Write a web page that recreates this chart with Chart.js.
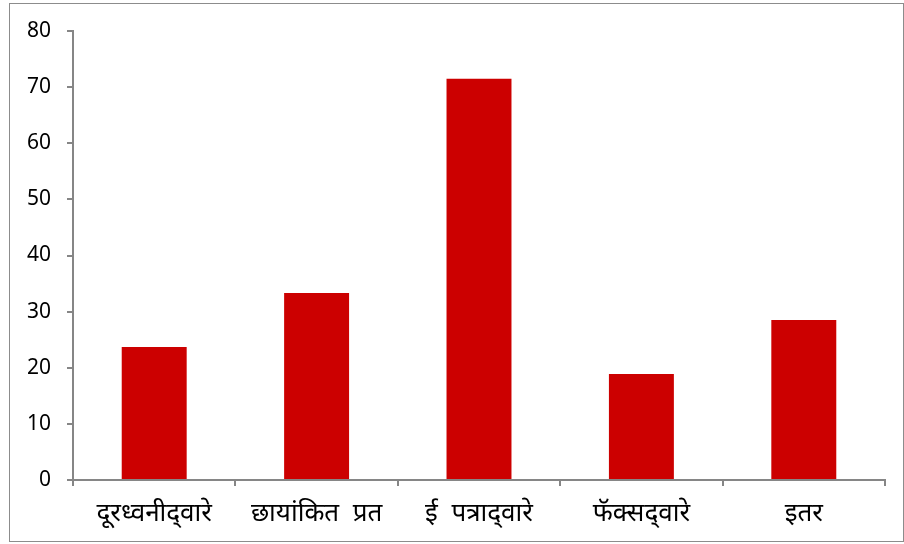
<!DOCTYPE html>
<html>
<head>
<meta charset="utf-8">
<script src="https://cdn.jsdelivr.net/npm/chart.js@4/dist/chart.umd.min.js"></script>
<style>
    html, body { margin: 0; padding: 0; background: #fff; }
    #frame { position: absolute; left: 9px; top: 3px; width: 893px; height: 537px; border: 1px solid #8c8c8c; }
    #wrap { position: absolute; left: 0; top: 0; width: 904px; height: 544px; }
</style>
</head>
<body>
<div id="frame"></div>
<div id="wrap"><canvas id="barChart"></canvas></div>
<script>
// ZWNJ after the halant keeps "द्" visible like in the original
const categories = ['दूरध्वनीद्\u200Cवारे', 'छायांकित  प्रत', 'ई  पत्राद्\u200Cवारे', 'फॅक्सद्\u200Cवारे', 'इतर'];
const values = [23.7, 33.3, 71.5, 18.9, 28.5];
const yTicks = [0, 10, 20, 30, 40, 50, 60, 70, 80];

document.addEventListener('DOMContentLoaded', function () {
    const ctx = document.getElementById('barChart');
    const axisColor = '#868686';
    const fontFamily = "'Noto Sans', 'DejaVu Sans', sans-serif";

    new Chart(ctx, {
        type: 'bar',
        data: {
            labels: categories,
            datasets: [{
                data: values,
                backgroundColor: '#cc0000',
                borderWidth: 0,
                categoryPercentage: 1,
                barPercentage: 0.4
            }]
        },
        options: {
            responsive: true,
            maintainAspectRatio: false,
            animation: false,
            layout: {
                padding: { left: 0, top: 31, right: 19, bottom: 0 }
            },
            plugins: {
                legend: { display: false },
                tooltip: { enabled: false }
            },
            scales: {
                x: {
                    grid: {
                        offset: true,
                        drawOnChartArea: false,
                        drawTicks: true,
                        tickLength: 6,
                        color: axisColor,
                        lineWidth: 2
                    },
                    border: { color: axisColor, width: 2 },
                    ticks: {
                        color: '#000',
                        font: { family: fontFamily, size: 26 },
                        padding: 12,
                        maxRotation: 0,
                        autoSkip: false
                    },
                    afterFit: function (scale) { scale.height = 64; }
                },
                y: {
                    min: 0,
                    max: 80,
                    afterBuildTicks: function (scale) {
                        scale.ticks = yTicks.map(v => ({ value: v }));
                    },
                    grid: {
                        drawOnChartArea: false,
                        drawTicks: true,
                        tickLength: 6,
                        color: axisColor,
                        lineWidth: 2
                    },
                    border: { color: axisColor, width: 2 },
                    ticks: {
                        color: '#000',
                        font: { family: fontFamily, size: 21 },
                        padding: 16
                    },
                    afterFit: function (scale) { scale.width = 73; }
                }
            }
        }
    });
});
</script>
</body>
</html>
